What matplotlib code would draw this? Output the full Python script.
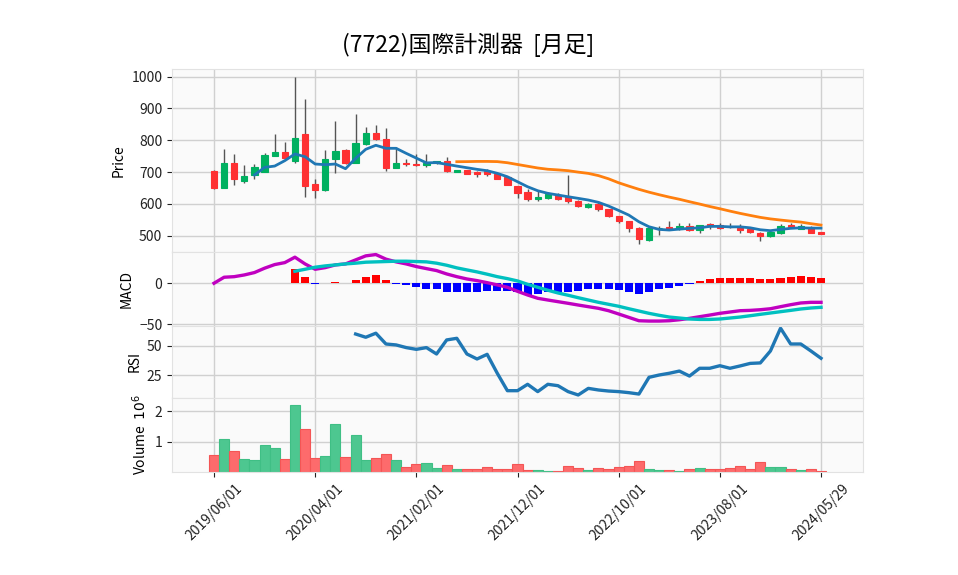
import matplotlib
matplotlib.use("Agg")
import matplotlib.pyplot as plt
import numpy as np

plt.rcParams['font.family'] = ['Noto Sans CJK JP', 'DejaVu Sans']

# ---------------- data ----------------
tick_labels = ["2019/06/01", "2020/04/01", "2021/02/01", "2021/12/01",
               "2022/10/01", "2023/08/01", "2024/05/29"]
tick_index = [0, 10, 20, 30, 40, 50, 60]

opens = [703.5, 651, 727.7, 673, 691.8, 700.3, 751.6, 763.2, 735.8, 819.8,
         661.6, 644.7, 741.2, 769.5, 729.6, 789.3, 823, 804, 713.8, 728,
         726.4, 721.4, 727.7, 734, 701.3, 706.6, 699.4, 704.4, 695, 683.6,
         656.3, 637.4, 615.4, 619.5, 629, 624, 609, 591.2, 598.7, 583,
         562, 545.3, 525, 486.5, 523, 527.4, 522, 529.5, 519, 537.7,
         533.6, 528.5, 525, 521, 508.5, 499, 509.4, 533.6, 521, 528,
         512.6]
highs = [706, 771.7, 758, 721.4, 725.5, 759, 819.8, 794.7, 998, 929,
         677.4, 769.5, 859.7, 771.7, 881.8, 840.9, 847, 837.7, 780, 742,
         757, 757, 736, 748.4, 708, 707, 704.4, 710.7, 697, 684,
         657, 645.9, 640.6, 638.4, 633, 691, 611, 602, 610, 585,
         563, 547, 527, 524, 530.5, 545.3, 541, 541, 529, 541,
         541, 541, 536.8, 526, 512, 515, 536.8, 541, 537, 531,
         513]
lows = [647, 650, 658.5, 666.7, 677.4, 699, 749.7, 744, 727.7, 620.7,
        617.6, 639.6, 698, 725.5, 728, 786, 801, 702.5, 712, 719,
        719, 717, 725, 701.3, 700, 694, 683.6, 688.7, 679, 658,
        618.6, 610, 610, 615.4, 612, 602, 590, 587, 578.6, 558,
        539, 512.6, 474, 482.4, 502, 518, 519, 516, 509.4, 521,
        522, 524, 507.5, 510, 483.3, 497, 507, 523, 520, 509,
        506]
closes = [649, 727.7, 677.4, 687.7, 715, 752.8, 763.2, 745.3, 807.2, 656.3,
          644.7, 740.3, 765.4, 729.6, 790.6, 823, 804, 713.8, 727.7, 727,
          722.3, 729.6, 734, 703.5, 707.5, 695, 695, 693, 679.2, 658.5,
          635.2, 615.4, 621.7, 631, 616.4, 610, 592.4, 599.7, 583, 561,
          547.4, 523.3, 488.7, 523.3, 523.5, 521, 530.5, 518.9, 532.7, 529.5,
          525, 528, 517.8, 511.6, 499, 512.6, 530.5, 527.4, 531.5, 509.4,
          506.3]
volume_m = [0.56, 1.07, 0.69, 0.43, 0.40, 0.89, 0.80, 0.42, 2.20, 1.42,
            0.47, 0.52, 1.56, 0.49, 1.20, 0.40, 0.47, 0.59, 0.40, 0.17,
            0.26, 0.30, 0.13, 0.22, 0.09, 0.09, 0.09, 0.17, 0.09, 0.09,
            0.26, 0.07, 0.07, 0.04, 0.04, 0.20, 0.13, 0.07, 0.13, 0.10,
            0.17, 0.20, 0.37, 0.10, 0.07, 0.07, 0.04, 0.10, 0.13, 0.10,
            0.10, 0.13, 0.20, 0.10, 0.32, 0.17, 0.17, 0.10, 0.07, 0.10,
            0.02]

# moving averages (5 and 25 months), starting indices 4 and 24
ma5 = [691, 715, 719, 736, 757, 748.4, 725.5, 723.3, 725.5, 710.7,
       743.4, 771.7, 784.3, 774.8, 774.8, 759, 744, 729, 730, 724.5,
       719, 713.8, 708.7, 704.4, 696.2, 685.5, 669.8, 654, 641.5, 633.3,
       628, 622.6, 617.6, 612.3, 605, 593.4, 579.5, 565, 544, 528.3,
       520, 518, 521, 523.3, 525, 529.5, 529.5, 528, 528, 525,
       518.9, 516, 520, 523.3, 525, 524, 524]
ma25 = [732.7, 733, 733.6, 733.6, 733, 729.5, 724, 718.5, 713, 709,
        707, 704.5, 700, 696, 689, 679, 666.5, 656, 646, 637,
        629, 621.5, 614.7, 607, 599.7, 592, 585, 577.5, 570.4, 564,
        557.8, 553, 549.4, 546, 543, 538, 533.6]

macd = [0, 7.3, 8, 10.1, 13, 18.3, 22.7, 25.1, 31.7, 23.5,
        17, 19, 22.3, 23.5, 28.4, 33.3, 34.9, 29.3, 26, 23.5,
        20.3, 17.8, 15.4, 11.3, 8, 5.2, 3.2, 0.7, -2, -4.9,
        -9.8, -14.3, -18.3, -20.4, -22.4, -24.4, -26.5, -28.5, -30.5, -33.4,
        -37.4, -41.5, -45.6, -46, -46, -45.6, -44.4, -42.7, -40.7, -38.7,
        -36.6, -35, -33.4, -33, -32.2, -31, -28.5, -26.1, -24, -23.2,
        -23.2]
signal = [14.6, 17, 19.5, 21.1, 22.3, 23.5, 24.4, 25.6, 26, 26.4,
          26.8, 26.8, 26.4, 26, 24.4, 21.9, 18.7, 16.2, 13.8, 11,
          8, 5.6, 2.8, -1.3, -4.9, -8.5, -11.8, -14.6, -17.6, -20.4,
          -23.2, -25.6, -28, -31, -33.8, -36.6, -39, -41.1, -42.3, -43.5,
          -44, -44, -43.5, -42.3, -41.1, -39.5, -37.8, -36.2, -34.6, -33,
          -31.3, -30.1, -29.3]
hist = [17, 7.3, -1, 0, 1, 0, 4, 7.3, 10.2, 4,
        -0.8, -2.4, -4.9, -7.3, -7.3, -10.2, -10.2, -10.2, -10.2, -9,
        -9, -9, -10.2, -13.8, -13.4, -10.2, -10.2, -10.2, -9.8, -7.3,
        -7.3, -7.3, -8.1, -10.6, -12.6, -10.2, -7.3, -5.3, -2.8, -1.2,
        2.8, 5.3, 6.5, 6.5, 6.5, 6.5, 4.9, 5.3, 6.5, 7.7,
        8.9, 7.7, 6.5]
rsi = [60.3, 57.5, 61, 51.7, 50.9, 48.6, 47.1, 48.6, 43.1, 55.2,
       56.6, 43.1, 38.8, 42.8, 26.5, 11.5, 11.5, 17, 10.7, 17,
       15.8, 10.7, 7.8, 13.5, 12.1, 11.2, 10.7, 9.8, 8.6, 23,
       25, 26.5, 28.4, 24.1, 30.8, 30.8, 33, 30.8, 32.8, 35,
       35.4, 45.7, 65.3, 51.7, 51.7, 45.7, 39.4]

title = "(7722)国際計測器  [月足]"

# ---------------- styling ----------------
UP, DOWN = '#00b060', '#fe3032'
VUP, VDOWN = '#4dc790', '#fd6b6c'
VUP_E, VDOWN_E = '#3fbf85', '#f45555'
WICK = '#555555'
FACE = '#fafafa'
GRID = '#d0d0d0'

n = len(closes)
x = np.arange(n)
o = np.array(opens); c = np.array(closes)
h = np.array(highs); l = np.array(lows)
up = c >= o

fig = plt.figure(figsize=(9.58, 5.75), dpi=100)
L, W = 172 / 958, (863 - 172) / 958
def pos(top, bot):
    return [L, 1 - bot / 575, W, (bot - top) / 575]

ax_p = fig.add_axes(pos(69, 252))
ax_m = fig.add_axes(pos(252, 326), sharex=ax_p)
ax_r = fig.add_axes(pos(326, 398), sharex=ax_p)
ax_v = fig.add_axes(pos(398, 472), sharex=ax_p)

for ax in (ax_p, ax_m, ax_r, ax_v):
    ax.set_facecolor(FACE)
    ax.grid(True, color=GRID, linewidth=1.0)
    ax.set_axisbelow(True)
    for s in ax.spines.values():
        s.set_color('#e2e2e2')
        s.set_linewidth(0.8)
    ax.tick_params(axis='y', labelsize=10, length=3.5, width=0.8,
                   colors='#222222')
    ax.tick_params(axis='x', length=3.5, width=0.8, colors='#222222')

# price panel
ax_p.vlines(x, l, h, color=WICK, linewidth=1.0, zorder=2)
body_b = np.minimum(o, c)
body_h = np.abs(c - o)
cols = [UP if u else DOWN for u in up]
ax_p.bar(x, body_h, width=0.62, bottom=body_b, color=cols, edgecolor=cols,
         linewidth=0.8, zorder=3)
ax_p.plot(x[4:], ma5, color='#1f77b4', linewidth=2.0, zorder=4)
ax_p.plot(x[24:], ma25, color='#ff7f0e', linewidth=2.0, zorder=4)
ax_p.set_ylim(449, 1024)
ax_p.set_yticks([500, 600, 700, 800, 900, 1000])
ax_p.set_ylabel("Price", fontsize=10)

# MACD panel
hcols = ['red' if v >= 0 else 'blue' for v in hist]
ax_m.bar(x[8:], hist, width=0.8, color=hcols, zorder=2)
ax_m.plot(x, macd, color='#c000c0', linewidth=2.4, zorder=3)
ax_m.plot(x[8:], signal, color='#00c0c0', linewidth=2.4, zorder=3)
ax_m.set_ylim(-52, 38)
ax_m.set_yticks([-50, 0])
ax_m.set_yticklabels(["\u221250", "0"])
ax_m.set_ylabel("MACD", fontsize=10)

# RSI panel
ax_r.plot(x[14:], rsi, color='#1f77b4', linewidth=2.4)
ax_r.set_ylim(5.2, 67.2)
ax_r.set_yticks([25, 50])
ax_r.set_ylabel("RSI", fontsize=10)

# Volume panel
vcols = [VUP if u else VDOWN for u in up]
vedges = [VUP_E if u else VDOWN_E for u in up]
ax_v.bar(x, volume_m, width=1.0, color=vcols, edgecolor=vedges,
         linewidth=0.8, zorder=2)
ax_v.set_ylim(0, 2.43)
ax_v.set_yticks([1, 2])
ax_v.set_ylabel("Volume  $10^{6}$", fontsize=10)

ax_p.set_xlim(-4.15, 64.15)
ax_v.set_xticks(tick_index)
ax_v.set_xticklabels(tick_labels, rotation=45, ha='center', fontsize=10)
for ax in (ax_p, ax_m, ax_r):
    ax.tick_params(axis='x', which='both', bottom=False, labelbottom=False)

fig.text(468 / 958, 1 - 45 / 575, title, ha='center', va='center',
         fontsize=16.5)

fig.savefig("out.png", dpi=100, facecolor='white')
